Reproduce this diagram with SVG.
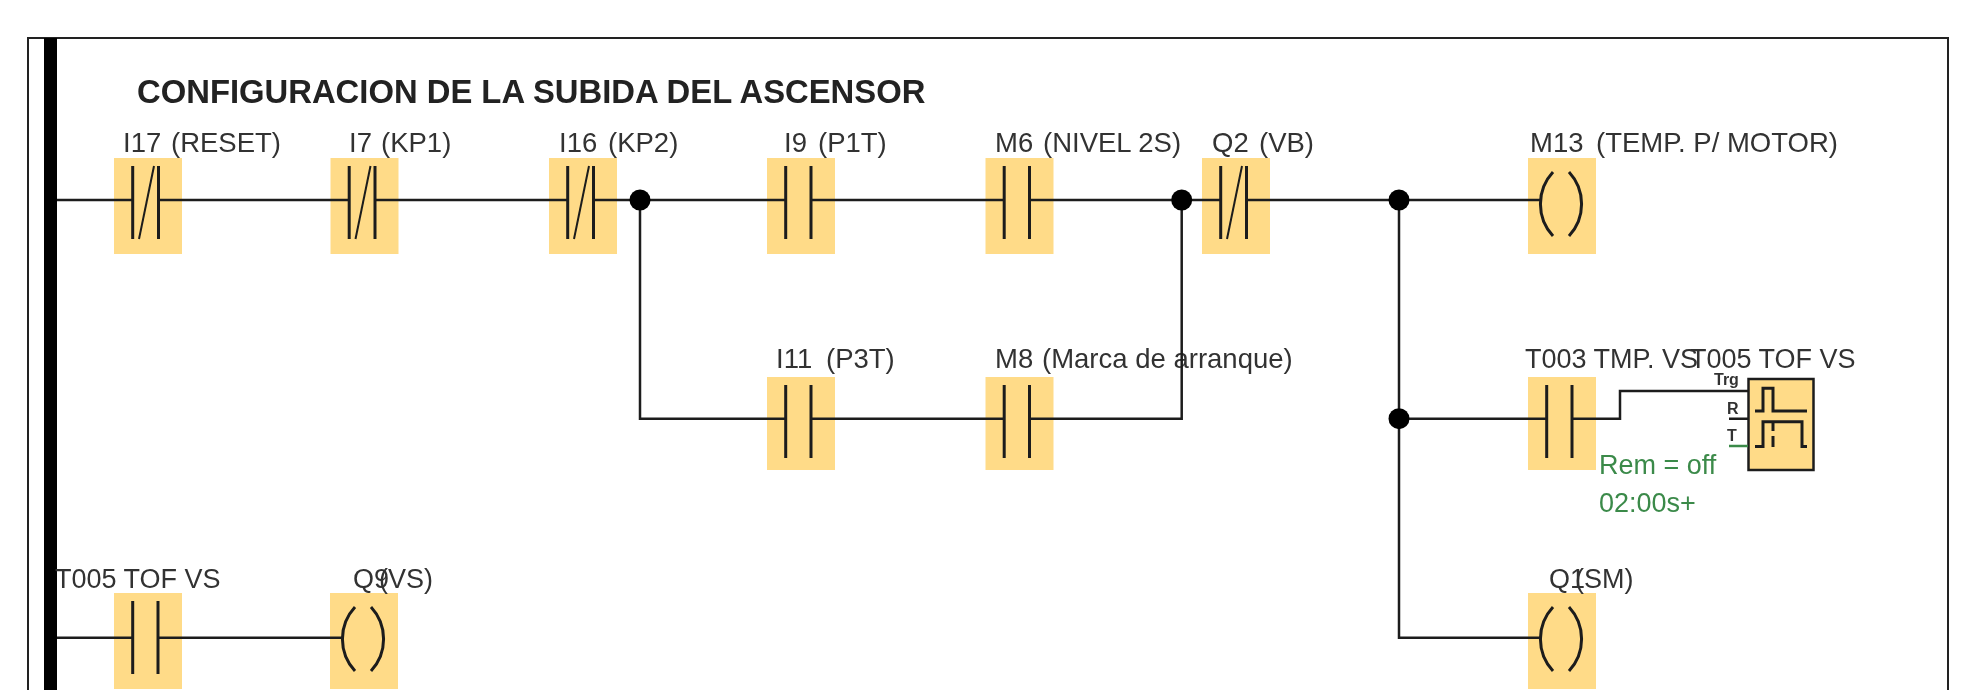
<svg xmlns="http://www.w3.org/2000/svg" width="1967" height="690" viewBox="0 0 1967 690">
<style>
text{font-family:"Liberation Sans",Arial,sans-serif;font-size:27.5px;fill:#333}
.t{font-size:32.800px;font-weight:bold;fill:#222}
.g{fill:#3b8a4a}
.n{font-size:27px}
.s{font-size:16px;font-weight:bold;fill:#333}
.b{fill:#ffdb88}
.w{fill:none;stroke:#1c1c1c;stroke-width:2.5}
.c{fill:none;stroke:#1c1c1c;stroke-width:3}
.l{fill:none;stroke:#1c1c1c;stroke-width:2}
.d{fill:#000}
</style>
<defs>
<filter id="soft" x="0" y="0" width="1" height="1"><feGaussianBlur stdDeviation="0.6"/></filter>
<g id="no"><rect class="b" width="68" height="96"/><path class="c" d="M18.700 8V81M44 8V81"/></g>
<g id="no2"><rect class="b" width="68" height="93"/><path class="c" d="M18.700 8V81M44 8V81"/></g>
<g id="nc"><rect class="b" width="68" height="96"/><path class="c" d="M18.700 8V81M44.500 8V81"/><path class="l" d="M25 81L40 8"/></g>
<g id="coil"><rect class="b" width="68" height="96"/><path class="c" d="M25 14A47 47 0 0 0 25 78M41 14A47 47 0 0 1 41 78"/></g>
</defs>
<g filter="url(#soft)">
<rect width="1967" height="690" fill="#fff"/>
<path d="M28 690V38H1948V690" fill="none" stroke="#222" stroke-width="2"/>
<rect x="44" y="38" width="13" height="652" fill="#000"/>
<text class="t" x="137" y="103">CONFIGURACION DE LA SUBIDA DEL ASCENSOR</text>
<g id="i17"><use href="#nc" x="114" y="158"/><text x="123" y="152">I17</text><text x="171" y="152">(RESET)</text></g>
<g id="i7"><use href="#nc" x="330.500" y="158"/><text x="349" y="152">I7</text><text x="381" y="152">(KP1)</text></g>
<g id="i16"><use href="#nc" x="549" y="158"/><text x="559" y="152">I16</text><text x="608" y="152">(KP2)</text></g>
<g id="i9"><use href="#no" x="767" y="158"/><text x="784" y="152">I9</text><text x="818" y="152">(P1T)</text></g>
<g id="m6"><use href="#no" x="985.500" y="158"/><text x="995" y="152">M6</text><text x="1043" y="152">(NIVEL 2S)</text></g>
<g id="q2"><use href="#nc" x="1202" y="158"/><text x="1212" y="152">Q2</text><text x="1259" y="152">(VB)</text></g>
<g id="m13"><use href="#coil" x="1528" y="158"/><text x="1530" y="152">M13</text><text x="1596" y="152">(TEMP. P/ MOTOR)</text></g>
<g id="i11"><use href="#no2" x="767" y="377"/><text x="776" y="368">I11</text><text x="826" y="368">(P3T)</text></g>
<g id="m8"><use href="#no2" x="985.500" y="377"/><text x="995" y="368">M8</text><text x="1042" y="368">(Marca de arranque)</text></g>
<g id="t003"><use href="#no2" x="1528" y="377"/><text class="n" x="1525" y="368">T003 TMP. VS</text><text class="g n" x="1599" y="474">Rem = off</text><text class="g n" x="1599" y="512">02:00s+</text></g>
<g id="t005-block">
<rect x="1748.500" y="379" width="65" height="91" fill="#ffdb88" stroke="#1c1c1c" stroke-width="2.500"/>
<path class="c" d="M1755 411H1763V388.300H1773V411H1807M1755 446.500H1763V421.700H1802V446.500H1807M1773 421.700V431M1773 436V447"/>
<text class="n" x="1690" y="368">T005 TOF VS</text>
<text class="s" x="1714" y="385">Trg</text><text class="s" x="1727" y="414">R</text><text class="s" x="1727" y="441">T</text>
</g>
<g id="t005"><use href="#no" x="114" y="593"/><text class="n" x="55" y="588">T005 TOF VS</text></g>
<g id="q9"><use href="#coil" x="330" y="593"/><text class="n" x="353" y="588">Q9</text><text class="n" x="379" y="588">(VS)</text></g>
<g id="q1"><use href="#coil" x="1528" y="593"/><text class="n" x="1549" y="588">Q1</text><text class="n" x="1575" y="588">(SM)</text></g>
<g id="connectors">
<path class="w" d="M57 200H132M158.500 200H350M376 200H569M594 200H785.500M811 200H1004M1029.500 200H1220.500M1246 200H1541M640 200V418.700H785.500M811 418.700H1004M1029.500 418.700H1181.700V200M1399 200V637.700H1541M1399 418.700H1546.500M1572 418.700H1620V391H1748M1729 418.700H1748M57 637.700H132.500M158 637.700H343"/>
<path d="M1729 446H1748" fill="none" stroke="#3b8a4a" stroke-width="2.500"/>
<circle class="d" cx="640" cy="200" r="10.500"/><circle class="d" cx="1181.700" cy="200" r="10.500"/><circle class="d" cx="1399" cy="200" r="10.500"/><circle class="d" cx="1399" cy="418.700" r="10.500"/>
</g>
</g>
</svg>
